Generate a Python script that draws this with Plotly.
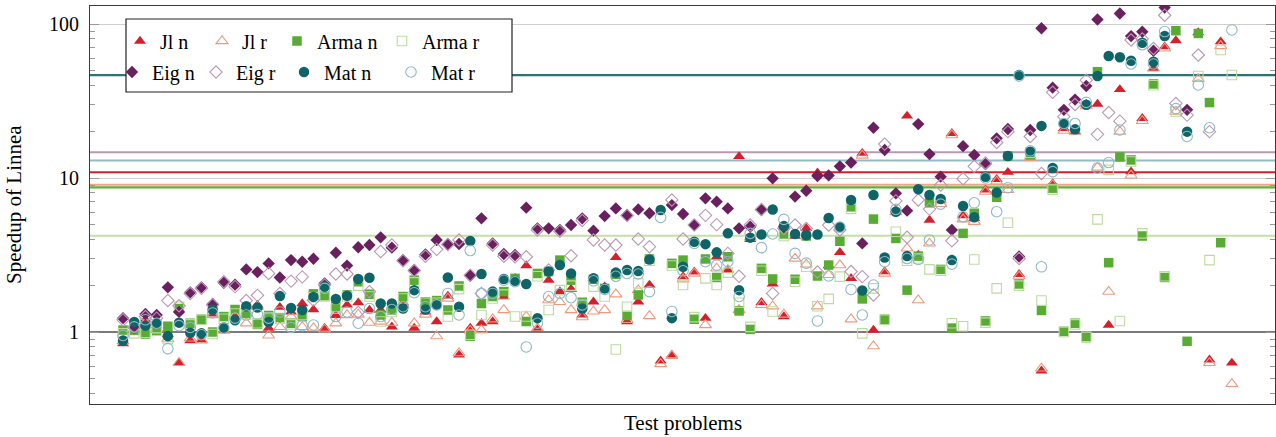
import plotly.graph_objects as go

# ---------------- data (speedup of Linnea per test problem) ----------------
problems = list(range(1, 101))

jl_n = [0.84, 1.05, 1.2, 1.1, 0.97, 0.635, 0.88, 0.88, 1.31, 1.03,
        1.26, 1.46, 1.5, 1.06, 1.45, 1.35, 1.53, 1.4, 1.06, 1.28,
        1.5, 1.55, 1.39, 1.39, 1.08, 1.55, 1.06, 1.35, 1.17, 1.71,
        0.71, 1.06, 1.14, 1.17, 1.7, 2.23, 2.7, 1.04, 2.17, 1.83,
        1.9, 1.29, 1.57, 1.97, 3.05, 1.17, 1.57, 2.02, 0.65, 0.71,
        2.29, 2.46, 1.23, 3.08, 2.53, 13.8, 4.0, 1.56, 2.05, 1.26,
        4.2, 4.71, 10.8, 2.7, 3.29, 2.23, 14.5, 1.03, 2.47, 6.2,
        25.3, 3.16, 5.33, 7.2, 19.5, 5.7, 5.47, 8.37, 9.8, 10.9,
        2.37, 14.0, 0.56, 9.2, 21.0, 20.0, 30.2, 30.2, 1.11, 37.6,
        11.0, 24.4, 51.5, 71.2, 78.0, None, 88.0, 0.66, 76.7, 0.63]

jl_r = [0.87, 1.0, 1.15, 1.05, 0.9, 0.63, 0.91, 0.89, 1.29, 1.02,
        1.29, 1.14, 1.46, 0.95, 1.08, 1.26, 1.08, 1.06, 1.04, 1.14,
        1.29, 1.3, 1.15, 1.17, 1.15, 1.5, 1.14, 1.3, 0.94, 1.65,
        0.73, 1.02, 1.03, 1.21, 1.39, 2.2, 1.26, 1.06, 1.61, 1.57,
        1.39, 1.25, 1.36, 1.39, 1.76, 1.2, 1.87, 1.27, 0.62, 0.7,
        2.2, 2.4, 1.11, 2.59, 2.53, 1.39, 4.1, 1.5, 1.47, 1.3,
        3.0, 2.75, 1.47, 2.35, 2.72, 1.21, 14.0, 0.81, 2.4, 6.0,
        3.49, 1.61, 3.76, 6.8, 19.0, 5.4, 5.2, 8.15, 9.5, 8.37,
        2.3, 13.5, 0.58, 9.0, 20.3, 20.0, 29.3, 11.7, 1.83, 20.0,
        10.4, 23.5, 51.5, 69.4, 27.0, None, 44.0, 0.63, 72.0, 0.46]

arma_n = [1.03, 1.03, 0.97, 1.02, 1.09, 1.42, 1.14, 1.21, 1.0, 1.26,
          1.4, 1.32, 1.12, 1.28, 1.24, 1.14, 1.26, 1.77, 1.72, 1.46,
          1.74, 2.12, 1.76, 1.29, 1.39, 1.7, 2.17, 1.57, 1.6, 1.39,
          1.99, 0.94, 1.53, 1.7, 1.83, 2.23, 1.17, 2.4, 2.47, 2.93,
          2.17, 1.56, 2.2, 1.92, 2.37, 1.28, 1.74, 2.98, None, 2.79,
          2.93, 1.21, 2.98, 2.26, 3.08, 1.37, 1.04, 2.59, 2.21, 4.33,
          2.2, 4.2, 2.31, 2.72, 3.88, 6.5, 1.64, 5.41, 1.21, 4.05,
          1.87, 3.11, 6.9, 2.55, 1.06, 4.37, 5.9, 1.18, 7.5, 13.9,
          2.05, 14.1, 1.38, 8.59, 1.01, 1.14, 0.92, 49.0, 2.82, 13.7,
          13.1, 4.2, 40.8, 2.26, 90.5, 0.87, 86.8, 30.9, 3.8, None]

arma_r = [0.98, 0.98, 0.99, 1.06, 0.9, 1.46, 1.12, 1.2, 0.97, 1.22,
          1.32, 1.3, 1.14, 1.24, 1.22, 1.12, 1.29, 1.68, 1.7, 1.42,
          1.7, 2.0, 1.7, 1.17, 1.35, 1.65, 2.1, 1.55, 1.55, 1.26,
          1.9, 0.96, 1.29, 1.65, 1.75, 1.26, 1.26, 2.3, 1.39, 1.87,
          2.0, 1.5, 1.97, 1.7, 0.77, 1.46, 2.07, 2.9, None, 2.7,
          2.02, 1.25, 2.23, 2.02, 2.43, 1.55, 1.08, 2.5, 1.36, 4.2,
          2.12, 2.65, 1.47, 1.64, 2.29, 6.3, 0.98, 1.92, 1.2, 4.48,
          2.9, 3.0, 2.55, 2.5, 1.14, 1.09, 2.96, 1.15, 1.92, 5.12,
          2.0, 14.6, 1.6, 8.4, 1.0, 1.12, 0.93, 5.39, 11.3, 1.18,
          12.8, 4.37, 40.0, 2.3, 27.0, None, 46.0, 2.93, 67.8, 46.6]

eig_n = [1.23, 1.06, 1.31, 1.29, 1.95, 1.35, 1.81, 1.95, 1.52, 2.09,
         2.03, 2.55, 2.45, 2.79, 2.26, 2.93, 2.86, 2.99, 2.07, 3.27,
         2.7, 3.55, 3.67, 4.12, 3.53, 2.93, 2.53, 3.19, 3.96, 3.73,
         3.73, 2.32, 5.47, 3.76, 3.21, 3.16, 6.42, 4.71, 4.71, 4.6,
         4.95, 5.47, 4.55, 5.66, 6.35, 5.75, 6.25, 5.9, None, 6.67,
         5.84, 4.95, 7.38, 7.02, 6.35, 4.71, 4.83, 6.2, 9.95, 4.8,
         7.57, 8.27, 10.3, 10.4, 11.9, 12.6, 3.76, 21.2, 15.2, 7.95,
         6.14, 22.4, 14.3, 10.2, 4.6, 16.1, 14.1, 12.3, 18.1, 20.8,
         3.09, 20.5, 93.9, 38.6, 27.7, 32.3, 39.6, 107, None, 117,
         83.5, 89, 67, 128, None, 27.7, None, None, None, None]

eig_r = [1.2, 1.08, 1.26, 1.23, 1.6, 1.48, 1.78, 1.92, 1.5, 2.12,
         1.97, 1.6, 1.73, 2.4, 1.78, 2.14, 2.28, 1.61, 2.02, 2.38,
         2.38, 1.34, 1.83, 3.33, 3.67, 2.9, 2.5, 3.1, 3.44, 3.7,
         3.96, 2.34, 1.78, 3.67, 3.1, 3.08, 3.08, 4.6, 2.53, 4.5,
         3.13, 5.3, 3.96, 3.67, 3.67, 5.7, 4.02, 3.58, None, 7.2,
         4.02, 4.95, 5.72, 4.98, 3.24, 2.3, 4.95, 6.25, 1.78, 4.7,
         4.95, 4.7, 2.45, 4.95, 4.6, 2.47, 2.29, 1.74, 16.6, 7.1,
         4.12, 7.2, 6.28, 9.0, 3.91, 9.9, 11.9, 12.5, 17.0, 20.0,
         3.0, 18.6, 10.7, 36.0, 25.0, 30.0, 43.2, 19.2, 26.6, 23.4,
         78.8, 80.0, 69.4, 114, 30.5, 25.6, 62.9, 20.0, None, None]

mat_n = [0.88, 1.16, 1.1, 1.14, 0.94, 1.15, 0.99, 0.98, 1.4, 1.07,
         1.19, 1.47, 1.44, 1.16, 1.71, 1.43, 1.39, 1.69, 1.97, 1.64,
         1.72, 2.21, 2.25, 1.53, 1.53, 1.42, 1.87, 1.4, 1.5, 2.26,
         1.46, 3.9, 2.38, 1.83, 2.21, 2.15, 2.05, 1.23, 2.47, 2.72,
         2.4, 1.42, 2.23, 1.92, 2.43, 2.53, 2.49, 2.96, 6.2, 1.23,
         2.65, 3.86, 3.72, 3.29, 4.37, 1.87, 4.1, 4.3, 6.25, 4.88,
         4.33, 4.25, 4.3, 5.5, 4.8, 7.2, 1.86, 7.75, 3.05, 6.04,
         3.11, 8.45, 7.75, 7.3, 2.93, 6.58, 5.56, 10.2, 8.06, 13.9,
         46.6, 14.8, 21.8, 11.6, 22.4, 20.7, 29.9, 46.0, 62.0, 60.9,
         57.7, 75.6, 56.9, 83.5, None, 20.0, None, None, None, None]

mat_r = [0.95, 1.08, 1.2, 1.14, 0.78, 1.1, 1.07, 0.96, 1.33, 1.06,
         1.23, 1.29, 1.3, 1.23, 1.35, 1.07, 1.1, 1.11, 1.92, 1.26,
         1.35, 1.14, 1.42, 1.26, 1.4, 1.46, 1.8, 1.46, 1.5, 1.78,
         1.29, 3.38, 1.78, 1.78, 2.17, 2.12, 0.80, 1.14, 1.7, 1.78,
         1.67, 1.5, 2.15, 1.89, 2.3, 2.4, 2.38, 1.83, 5.55, 1.36,
         2.5, 3.76, 2.86, 2.72, 2.86, 1.7, 4.37, 3.53, 4.33, 5.39,
         3.24, 2.8, 1.18, 2.31, 4.8, 1.89, 1.29, 2.02, 2.86, 6.26,
         3.0, 2.96, 3.96, 6.77, 2.76, 5.6, 6.9, 10.0, 6.04, 8.65,
         46.0, 15.0, 2.65, 11.0, 22.6, 22.6, 31.0, 11.6, 12.6, 20.5,
         55.0, 73.3, 55.0, 89.3, 28.2, 18.6, 40.2, 21.2, None, 91.5]

# reference lines (average speedups)
ref_names = ["Mat n", "Eig r", "Mat r", "Jl n", "Jl r", "Arma n", "Arma r", "baseline"]
ref_values = [46.6, 14.7, 13.0, 10.9, 9.05, 8.68, 4.22, 1.0]

y_ticks = [1, 10, 100]
y_tick_labels = ["1", "10", "100"]

# ---------------- styling ----------------
FONT = "Liberation Serif"
x_range = [-1.95, 103.85]

series = [
    ("Jl n", jl_n, "triangle-up", "#d41f2c", True, 10.5),
    ("Jl r", jl_r, "triangle-up-open", "#ef9a80", False, 10.5),
    ("Arma n", arma_n, "square", "#58ab33", True, 9.5),
    ("Arma r", arma_r, "square-open", "#bcdb9f", False, 9.5),
    ("Eig n", eig_n, "diamond", "#6a1f5e", True, 9.5),
    ("Eig r", eig_r, "diamond-open", "#ba98b4", False, 9.5),
    ("Mat n", mat_n, "circle", "#0e6467", True, 10.5),
    ("Mat r", mat_r, "circle-open", "#90bac5", False, 10.5),
]
# legend slot (text start x in px, row centre y in px) for each series
legend_slots = [(161, 41), (243, 41), (318, 41), (423, 41),
                (153, 72), (237, 72), (325, 72), (432, 72)]

ref_colors = ["#2b7476", "#b79ab2", "#93bcc6", "#d41f2c", "#f1a48b", "#5cb032", "#c3e0a8", "#7a7a7a"]
ref_widths = [2.2, 2.0, 2.0, 2.2, 2.0, 2.2, 2.0, 2.2]

fig = go.Figure()

for name, val, col, w in zip(ref_names, ref_values, ref_colors, ref_widths):
    fig.add_trace(go.Scatter(
        x=x_range, y=[val, val], mode="lines", showlegend=False, hoverinfo="skip",
        line=dict(color=col, width=w), name=name))

for i, (name, vals, sym, col, filled, size) in enumerate(series):
    fig.add_trace(go.Scatter(
        x=problems, y=vals, mode="markers", name=name,
        legend="legend" if i == 0 else f"legend{i + 1}",
        marker=dict(symbol=sym, color=col, size=size,
                    line=dict(width=0 if filled else 1.1, color=col))))

W, H = 1276, 437
L, R, T, B = 90, 1, 6, 33
pw, ph = W - L - R, H - T - B


def px_x(p):
    return (p - L) / pw


def px_y(p):
    return (H - B - p) / ph


legend_layout = {}
for i, (tx, ty) in enumerate(legend_slots):
    key = "legend" if i == 0 else f"legend{i + 1}"
    legend_layout[key] = dict(
        x=px_x(tx - 41), y=px_y(ty), xanchor="left", yanchor="middle",
        orientation="h", font=dict(family=FONT, size=20, color="#000"),
        bgcolor="rgba(0,0,0,0)", borderwidth=0, itemwidth=30)

fig.update_layout(
    width=W, height=H,
    margin=dict(l=L, r=R, t=T, b=B),
    paper_bgcolor="white", plot_bgcolor="white",
    font=dict(family=FONT, size=20, color="#000"),
    xaxis=dict(range=x_range, showgrid=False, zeroline=False, showticklabels=False,
               ticks="", showline=True, linecolor="#3a3a3a", linewidth=1.2, mirror=True),
    yaxis=dict(type="log", range=[-0.4675, 2.1169], tickvals=y_ticks, ticktext=y_tick_labels,
               showgrid=True, gridcolor="#d0d0d0", gridwidth=1,
               ticks="inside", ticklen=9, tickcolor="#9a9a9a", tickwidth=1,
               showline=True, linecolor="#3a3a3a", linewidth=1.2, mirror="allticks",
               ticklabelstandoff=6,
               tickfont=dict(family=FONT, size=20, color="#000"),
               minor=dict(tickvals=[0.4, 0.5, 0.6, 0.7, 0.8, 0.9, 2, 3, 4, 5, 6, 7, 8, 9,
                                    20, 30, 40, 50, 60, 70, 80, 90],
                          ticks="inside", ticklen=5, tickcolor="#9a9a9a", showgrid=False)),
    shapes=[dict(type="rect", xref="paper", yref="paper", layer="above",
                 x0=px_x(126), x1=px_x(512), y0=px_y(92), y1=px_y(19),
                 fillcolor="white", line=dict(color="#222", width=1.2))],
    annotations=[
        dict(text="Speedup of Linnea", xref="paper", yref="paper", x=px_x(14), y=0.5,
             textangle=-90, showarrow=False, xanchor="center", yanchor="middle",
             font=dict(family=FONT, size=21, color="#000")),
        dict(text="Test problems", xref="paper", yref="paper", x=0.5, y=px_y(423),
             showarrow=False, xanchor="center", yanchor="middle",
             font=dict(family=FONT, size=21, color="#000")),
    ],
    **legend_layout,
)

fig.write_html("out.html")
